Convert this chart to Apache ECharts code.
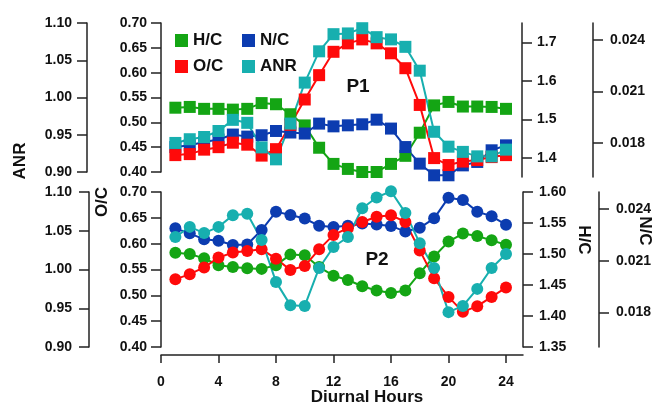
<!DOCTYPE html>
<html>
<head>
<meta charset="utf-8">
<script src="https://cdn.jsdelivr.net/npm/echarts@6/dist/echarts.min.js"></script>
<style>
  html, body { margin: 0; padding: 0; background: #fff; }
  #main { width: 655px; height: 404px; }
</style>
</head>
<body>
<div id="main"></div>
<script>
var hours = [1, 2, 3, 4, 5, 6, 7, 8, 9, 10, 11, 12, 13, 14, 15, 16, 17, 18, 19, 20, 21, 22, 23, 24];
var xTicks = [0, 4, 8, 12, 16, 20, 24];

// P1 (top panel)
var p1HC = [1.530, 1.532, 1.527, 1.527, 1.525, 1.527, 1.542, 1.539, 1.513, 1.484, 1.426, 1.384,
            1.371, 1.363, 1.363, 1.384, 1.405, 1.465, 1.536, 1.545, 1.533, 1.533, 1.532, 1.527];
var p1NC = [0.01775, 0.01785, 0.01805, 0.01819, 0.01848, 0.01836, 0.01844, 0.01869, 0.01860, 0.01854, 0.01912, 0.01896,
            0.01902, 0.01908, 0.01935, 0.01883, 0.01775, 0.01678, 0.01610, 0.01610, 0.01668, 0.01688, 0.01756, 0.01785];
var p1OC = [0.434, 0.436, 0.445, 0.450, 0.459, 0.455, 0.433, 0.446, 0.495, 0.546, 0.595, 0.642,
            0.659, 0.667, 0.659, 0.639, 0.609, 0.535, 0.428, 0.414, 0.421, 0.424, 0.430, 0.434];
var p1ANR = [0.939, 0.944, 0.947, 0.955, 0.970, 0.966, 0.933, 0.917, 0.965, 1.020, 1.062, 1.085,
             1.086, 1.093, 1.081, 1.078, 1.068, 1.036, 0.954, 0.934, 0.927, 0.921, 0.921, 0.930];

// P2 (bottom panel)
var p2HC = [1.502, 1.500, 1.493, 1.482, 1.479, 1.477, 1.476, 1.482, 1.499, 1.498, 1.479, 1.465,
            1.458, 1.448, 1.441, 1.437, 1.441, 1.469, 1.496, 1.520, 1.533, 1.529, 1.522, 1.515];
var p2NC = [0.02289, 0.02260, 0.02225, 0.02217, 0.02192, 0.02195, 0.02279, 0.02386, 0.02366, 0.02346, 0.02304, 0.02297,
            0.02304, 0.02317, 0.02311, 0.02303, 0.02270, 0.02292, 0.02347, 0.02467, 0.02454, 0.02386, 0.02359, 0.02310];
var p2OC = [0.531, 0.541, 0.554, 0.573, 0.583, 0.586, 0.589, 0.571, 0.549, 0.557, 0.589, 0.617,
            0.630, 0.642, 0.652, 0.655, 0.642, 0.587, 0.533, 0.497, 0.468, 0.479, 0.497, 0.515];
var p2ANR = [1.042, 1.055, 1.047, 1.055, 1.070, 1.072, 1.038, 0.984, 0.954, 0.953, 1.002, 1.029,
             1.042, 1.079, 1.093, 1.101, 1.073, 1.034, 1.002, 0.945, 0.953, 0.975, 1.002, 1.020];

var hcTicksTop = [1.4, 1.5, 1.6, 1.7];
var ncTicks = [0.018, 0.021, 0.024];

var GREEN = '#14a514', BLUE = '#0c3cb0', RED = '#ff0a0a', CYAN = '#17afaf';
var FONT = 'Arial, "Liberation Sans", sans-serif';

function pairs(vals) {
  return hours.map(function (h, i) { return [h, vals[i]]; });
}

function yAxis(grid, pos, offset, min, max, opts) {
  var ax = {
    type: 'value',
    gridIndex: grid,
    position: pos,
    offset: offset,
    min: min,
    max: max,
    splitLine: { show: false },
    axisLine: { show: true, onZero: false, lineStyle: { color: '#222', width: 1.5 } },
    axisTick: { show: true, length: 10, lineStyle: { color: '#222', width: 1.5 } },
    axisLabel: {
      margin: opts.margin,
      color: '#111',
      fontSize: 14,
      fontWeight: 'bold',
      fontFamily: FONT,
      formatter: function (v) { return v.toFixed(opts.dec); }
    }
  };
  if (opts.interval) ax.interval = opts.interval;
  if (opts.ticks) {
    ax.axisLabel.customValues = opts.ticks;
    ax.axisTick.customValues = opts.ticks;
  }
  return ax;
}

function line(name, data, x, y, color, symbol) {
  return {
    name: name,
    type: 'line',
    xAxisIndex: x,
    yAxisIndex: y,
    data: pairs(data),
    symbol: symbol,
    symbolSize: 12,
    showAllSymbol: true,
    clip: false,
    lineStyle: { color: color, width: 2 },
    itemStyle: { color: color, borderWidth: 0 }
  };
}

function legendItem(name, left, top) {
  return {
    data: [name],
    left: left,
    top: top,
    padding: 0,
    icon: 'rect',
    itemWidth: 13,
    itemHeight: 13,
    selectedMode: false,
    textStyle: { fontSize: 17, fontWeight: 'bold', fontFamily: FONT, color: '#111' }
  };
}

function label(text, x, y, rot, size) {
  return {
    type: 'text',
    x: x,
    y: y,
    rotation: rot,
    style: {
      text: text,
      fill: '#111',
      font: 'bold ' + size + 'px ' + FONT,
      textAlign: 'center',
      textVerticalAlign: 'middle'
    }
  };
}

var chart = echarts.init(document.getElementById('main'), null, { renderer: 'canvas' });

var options = {
  animation: false,
  backgroundColor: '#fff',
  grid: [
    { left: 161, width: 345, top: 23, height: 149, outerBoundsMode: 'none' },
    { left: 161, width: 345, top: 23, height: 154, outerBoundsMode: 'none' },
    { left: 161, width: 345, top: 192, height: 155, outerBoundsMode: 'none' },
    { left: 161, width: 362, top: 354, height: 1, outerBoundsMode: 'none' }
  ],
  xAxis: [
    { type: 'value', gridIndex: 0, min: 0, max: 24, show: false },
    { type: 'value', gridIndex: 1, min: 0, max: 24, show: false },
    {
      type: 'value', gridIndex: 2, min: 0, max: 24, interval: 4, offset: 8,
      splitLine: { show: false },
      axisLine: { show: false, onZero: false },
      axisTick: { show: true, length: 8, lineStyle: { color: '#222', width: 1.5 } },
      axisLabel: {
        margin: 20, color: '#111', fontSize: 14, fontWeight: 'bold', fontFamily: FONT,
        customValues: xTicks
      }
    },
    {
      type: 'value', gridIndex: 3, min: 0, max: 25.1,
      splitLine: { show: false },
      axisLine: { show: true, onZero: false, lineStyle: { color: '#222', width: 1.5 } },
      axisTick: { show: false },
      axisLabel: { show: false }
    }
  ],
  yAxis: [
    yAxis(0, 'left', 0, 0.40, 0.70, { interval: 0.05, dec: 2, margin: 14 }),
    yAxis(0, 'left', 74, 0.90, 1.10, { interval: 0.05, dec: 2, margin: 15 }),
    yAxis(1, 'right', 16, 1.35, 1.75, { ticks: hcTicksTop, dec: 1, margin: 15 }),
    yAxis(1, 'right', 87, 0.016, 0.025, { ticks: ncTicks, dec: 3, margin: 17 }),
    yAxis(2, 'left', 0, 0.40, 0.70, { interval: 0.05, dec: 2, margin: 14 }),
    yAxis(2, 'left', 72, 0.90, 1.10, { interval: 0.05, dec: 2, margin: 17 }),
    yAxis(2, 'right', 17, 1.35, 1.60, { interval: 0.05, dec: 2, margin: 16 }),
    yAxis(2, 'right', 93, 0.016, 0.025, { ticks: ncTicks, dec: 3, margin: 17 }),
    { type: 'value', gridIndex: 3, min: 0, max: 1, show: false }
  ],
  legend: [
    legendItem('H/C', 175, 32),
    legendItem('N/C', 242, 32),
    legendItem('O/C', 175, 58),
    legendItem('ANR', 242, 58)
  ],
  graphic: [
    label('ANR', 20, 161, Math.PI / 2, 17),
    label('O/C', 102, 202, Math.PI / 2, 17),
    label('H/C', 584, 240, -Math.PI / 2, 17),
    label('N/C', 645, 231, -Math.PI / 2, 17),
    label('P1', 358, 87, 0, 19),
    label('P2', 377, 260, 0, 19),
    label('Diurnal Hours', 367, 397, 0, 17)
  ],
  series: [
    line('H/C', p1HC, 1, 2, GREEN, 'rect'),
    line('N/C', p1NC, 1, 3, BLUE, 'rect'),
    line('O/C', p1OC, 0, 0, RED, 'rect'),
    line('ANR', p1ANR, 0, 1, CYAN, 'rect'),
    line('H/C', p2HC, 2, 6, GREEN, 'circle'),
    line('N/C', p2NC, 2, 7, BLUE, 'circle'),
    line('O/C', p2OC, 2, 4, RED, 'circle'),
    line('ANR', p2ANR, 2, 5, CYAN, 'circle')
  ]
};

chart.setOption(options);
</script>
</body>
</html>
